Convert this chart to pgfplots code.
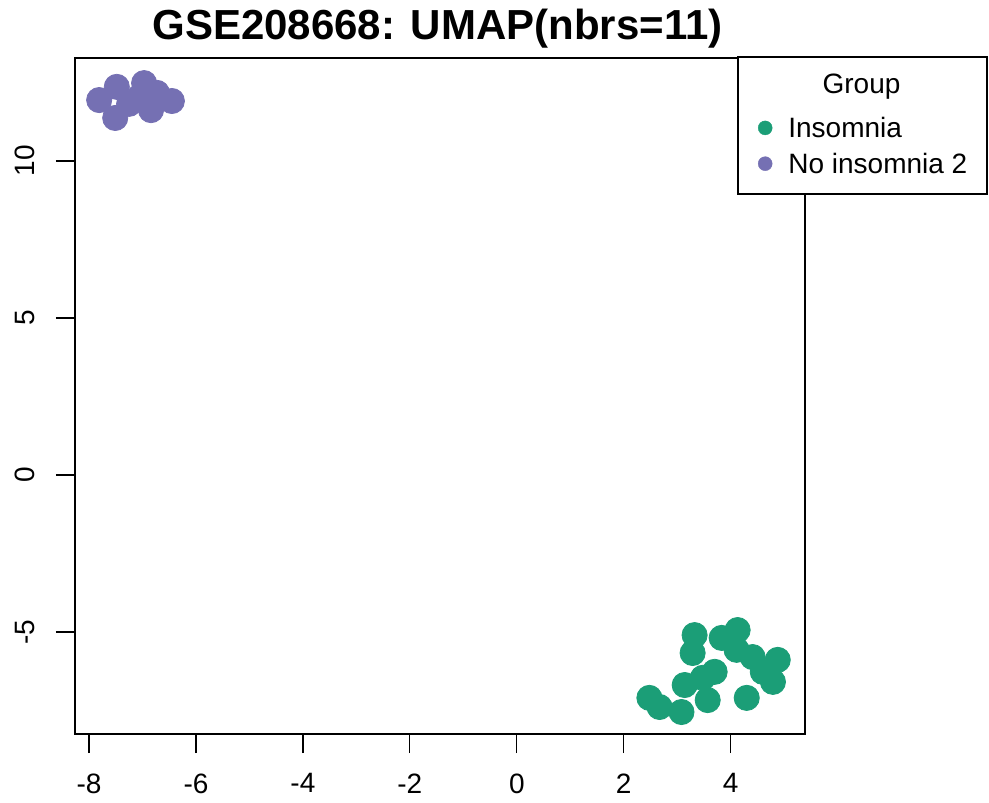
\documentclass[border=0pt]{standalone}
\usepackage{pgfplots}
\pgfplotsset{compat=1.18}
\usepackage{fontspec}
\setmainfont{Liberation Sans}
\definecolor{insom}{HTML}{1B9E77}
\definecolor{noinsom}{HTML}{7570B3}

\begin{document}
\begin{tikzpicture}
\begin{axis}[
  scale only axis, width=730bp, height=676bp,
  xmin=-8.262, xmax=5.39, ymin=-8.25, ymax=13.28,
  clip=false,
  axis line style={line width=1.3bp, black},
  xtick={-8,-6,-4,-2,0,2,4}, ytick={-5,0,5,10},
  xtick pos=lower, ytick pos=lower,
  tick align=outside,
  major tick length=19bp,
  every tick/.style={line width=1.3bp, black},
  tick label style={font=\fontsize{28bp}{34bp}\selectfont},
  /pgf/number format/assume math mode=true,
  scaled ticks=false,
  xticklabel shift={17bp},
  yticklabel shift={18bp},
  yticklabel style={rotate=90, anchor=south},
  legend style={at={(rel axis cs:0.9356,0.9127)}, anchor=north west,
    draw=none, fill=none, inner sep=0pt, outer sep=0pt,
    column sep=16bp, row sep=14bp,
    font=\fontsize{28bp}{34bp}\selectfont,
    nodes={inner sep=0pt}},
  legend cell align=left,
]
\addplot[only marks, mark=*, mark size=12.6bp, color=insom,
  mark options={fill=insom, draw=insom, line width=0.8bp},
  legend image code/.code={\fill[insom] (0bp,0bp) circle (7bp);}]
  coordinates {
  (3.325,-5.10) (3.288,-5.67) (3.831,-5.19) (4.13,-4.94) (4.11,-5.57)
  (4.41,-5.80) (4.88,-5.89) (4.79,-6.59) (4.60,-6.27) (3.70,-6.27)
  (3.48,-6.46) (3.14,-6.69) (2.48,-7.10) (2.67,-7.39) (3.08,-7.55)
  (3.57,-7.17) (4.30,-7.10)
  };
\addlegendentry{Insomnia}
\addplot[only marks, mark=*, mark size=12.6bp, color=noinsom,
  mark options={fill=noinsom, draw=noinsom, line width=0.8bp},
  legend image code/.code={\fill[noinsom] (0bp,0bp) circle (7bp);}]
  coordinates {
  (-7.81,11.94) (-7.48,12.36) (-6.97,12.48) (-6.73,12.17) (-6.45,11.91)
  (-7.51,11.37) (-6.84,11.62) (-7.25,11.82) (-7.06,12.04)
  };
\addlegendentry{No insomnia 2}
% legend frame and heading
\draw[line width=1.3bp, fill=white] (rel axis cs:0.9082,0.7988) rectangle (rel axis cs:1.2493,1.0015);
\node[anchor=base, font=\fontsize{28bp}{34bp}\selectfont] at (rel axis cs:1.0774,0.9482) {Group};
% title
\node[anchor=base, yshift=18bp, font=\fontsize{42bp}{50bp}\selectfont\bfseries] at (rel axis cs:0.4966,1) {GSE208668: UMAP(nbrs=11)};
\end{axis}
\pgfresetboundingbox
\path[use as bounding box, shift={(current axis.south west)}] (-75bp,-69bp) rectangle (914bp,734bp);
\end{tikzpicture}
\end{document}
